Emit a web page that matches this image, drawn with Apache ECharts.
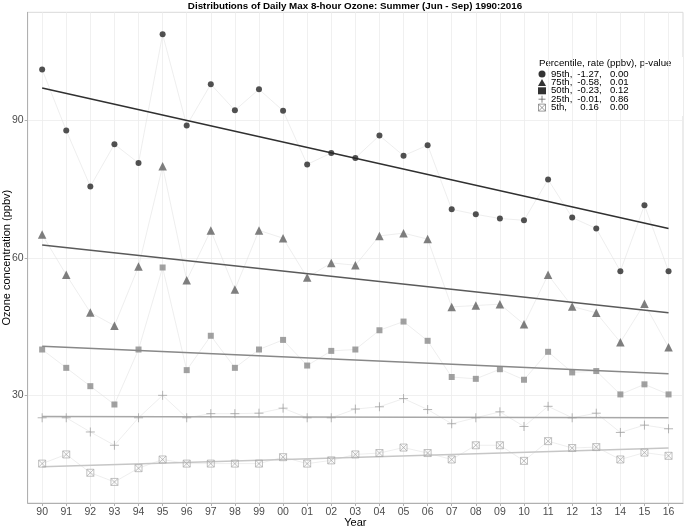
<!DOCTYPE html>
<html><head><meta charset="utf-8">
<script src="https://cdn.jsdelivr.net/npm/echarts@6/dist/echarts.min.js"></script>
<style>html,body{margin:0;padding:0;background:#fff}#c{width:685px;height:527px}</style>
</head><body><div id="c"></div>
<script>
// ---- data ----
const years = ['90','91','92','93','94','95','96','97','98','99','00','01','02','03','04','05','06','07','08','09','10','11','12','13','14','15','16'];
const percentiles = ['95th','75th','50th','25th','5th'];
const rates = ['-1.27,','-0.58,','-0.23,','-0.01,','0.16'];
const pvalues = ['0.00','0.01','0.12','0.86','0.00'];
const p95 = [101.1,87.8,75.6,84.8,80.7,108.8,88.9,97.9,92.2,96.8,92.1,80.4,82.9,81.8,86.7,82.3,84.6,70.6,69.5,68.6,68.2,77.1,68.8,66.4,57.1,71.5,57.1];
const p75 = [65.1,56.3,48.1,45.2,58.1,80.0,55.1,66.0,53.1,66.0,64.3,55.7,58.9,58.4,64.8,65.4,64.1,49.3,49.6,49.9,45.5,56.3,49.4,48.0,41.6,50.0,40.5];
const p50 = [40.0,36.0,32.0,28.0,40.0,57.9,35.5,43.0,36.0,40.0,42.1,36.5,39.7,40.0,44.2,46.1,41.9,34.0,33.6,35.7,33.4,39.5,35.0,35.3,30.2,32.4,30.2];
const p25 = [25.1,25.1,22.0,19.1,25.1,30.0,25.1,26.0,26.0,26.1,27.2,25.1,25.1,27.0,27.5,29.3,26.9,23.8,25.1,26.4,23.2,27.6,25.1,26.1,21.9,23.5,22.7];
const p5  = [15.1,17.1,13.1,11.1,14.1,16.0,15.1,15.1,15.1,15.1,16.5,15.1,15.8,17.1,17.4,18.6,17.4,16.0,19.1,19.1,15.7,20.0,18.5,18.7,16.0,17.5,16.8];
const trendStart = [97.1,62.8,40.7,25.4,14.4];  // fitted line value at 1990
const trendEnd   = [66.4,48.0,34.7,25.1,18.5];  // fitted line value at 2016
const yTicks = [30,60,90];

// ---- styles ----
const PLUS = 'path://M0,5 L10,5 M5,0 L5,10';
const BOXX = 'path://M0,0 L10,0 L10,10 L0,10 Z M0,0 L10,10 M10,0 L0,10';
const sty = [
  {symbol:'circle', size:6, color:'#262626', trend:'#303030', legend:'#000'},
  {symbol:'triangle', size:8.5, color:'#5f5f5f', trend:'#5a5a5a', legend:'#000'},
  {symbol:'rect', size:6, color:'#8a8a8a', trend:'#888888', legend:'#000'},
  {symbol:PLUS, size:9, color:'#9a9a9a', trend:'#a8a8a8', legend:'#555', hollow:true},
  {symbol:BOXX, size:7, color:'#a8a8a8', trend:'#c6c6c6', legend:'#777', hollow:true}
];
const allVals = [p95,p75,p50,p25,p5];
const idx = years.map((_, i) => i);
const FONT = '"Liberation Sans", Arial, Helvetica, sans-serif';

const series = [];
allVals.forEach((vals, k) => {
  series.push({type:'line', data: vals.map((v,i)=>[i,v]), symbol:'none', silent:true,
    lineStyle:{color:'#e2e2e2', width:0.6}, z:2});
});
allVals.forEach((vals, k) => {
  series.push({type:'line', data:[[0,trendStart[k]],[years.length-1,trendEnd[k]]], symbol:'none', silent:true,
    lineStyle:{color:sty[k].trend, width:1.5}, z:3});
});
allVals.forEach((vals, k) => {
  const s = sty[k];
  series.push({type:'scatter', name:percentiles[k], data: vals.map((v,i)=>[i,v]),
    symbol:s.symbol, symbolSize:s.size, z:4,
    itemStyle: s.hollow ? {color:'rgba(0,0,0,0)', borderColor:s.color, borderWidth:0.9} : {color:s.color}});
});

const legendData = percentiles.map((p,k)=>({
  name:p, icon:sty[k].symbol,
  itemStyle: sty[k].hollow ? {color:'rgba(0,0,0,0)', borderColor:sty[k].legend, borderWidth:0.9} : {color:sty[k].legend}
}));

const option = {
  animation:false,
  textStyle:{fontFamily:FONT},
  title:{text:'Distributions of Daily Max 8-hour Ozone: Summer (Jun - Sep) 1990:2016',
    left:355, textAlign:'center', top:1, padding:0,
    textStyle:{fontSize:9.8, fontWeight:'bold', color:'#000', fontFamily:FONT}},
  grid:{left:27.7, right:2, top:12.3, bottom:24, outerBoundsMode:'none', containLabel:false,
    show:true, borderColor:'#d9d9d9', borderWidth:1, backgroundColor:'#fff'},
  xAxis:{type:'value', min:-0.6, max:years.length-1+0.6,
    name:'Year', nameLocation:'middle', nameGap:14.5, nameMoveOverlap:false, nameTextStyle:{fontSize:11, color:'#000'},
    axisLine:{show:true, onZero:false, lineStyle:{color:'#b0b0b0', width:1}},
    axisTick:{show:true, customValues:idx, length:3, lineStyle:{color:'#b0b0b0'}},
    axisLabel:{customValues:idx, formatter:v=>years[Math.round(v)], color:'#4d4d4d', fontSize:10.5, margin:4},
    splitLine:{show:true, lineStyle:{color:'#ececec', width:0.8}}},
  yAxis:{type:'value', min:6.5, max:113.6,
    name:'Ozone concentration (ppbv)', nameLocation:'middle', nameGap:15, nameMoveOverlap:false, nameTextStyle:{fontSize:11, color:'#000'},
    axisLine:{show:true, onZero:false, lineStyle:{color:'#b0b0b0', width:1}},
    axisTick:{show:true, customValues:yTicks, length:3, lineStyle:{color:'#b0b0b0'}},
    axisLabel:{customValues:yTicks, color:'#4d4d4d', fontSize:10.5, margin:4},
    splitLine:{show:true, lineStyle:{color:'#ececec', width:0.8}}},
  legend:{orient:'vertical', left:538, top:69, itemGap:-1.6, itemWidth:8, itemHeight:7, padding:0,
    data:legendData, selectedMode:false,
    formatter: name => { const i = percentiles.indexOf(name);
      return '{a|' + name + ',}{b|' + rates[i] + '}{c|' + pvalues[i] + '}'; },
    textStyle:{color:'#000', fontSize:9.6, lineHeight:8.4,
      rich:{a:{width:26, fontSize:9.6, lineHeight:8.4, fontFamily:FONT},
            b:{width:25, align:'right', fontSize:9.6, lineHeight:8.4, fontFamily:FONT},
            c:{padding:[0,0,0,8], fontSize:9.6, lineHeight:8.4, fontFamily:FONT}}}},
  graphic:{z:1, elements:[
    {type:'rect', left:535, top:57, shape:{width:148, height:59}, style:{fill:'#fff'}, silent:true},
    {type:'text', left:539, top:58, style:{text:'Percentile, rate (ppbv), p-value', fill:'#000', font:'9.7px ' + FONT}}
  ]},
  series: series
};
const chart = echarts.init(document.getElementById('c'), null, {renderer:'canvas'});
chart.setOption(option);
</script></body></html>
